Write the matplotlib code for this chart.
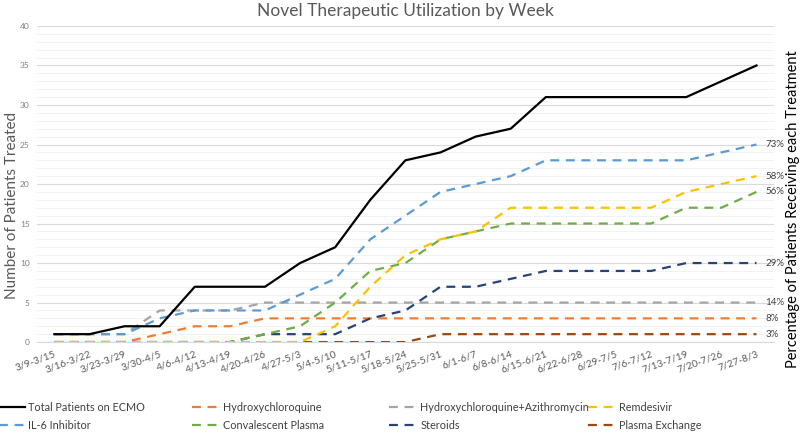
import matplotlib
matplotlib.use("Agg")
import matplotlib.pyplot as plt
from matplotlib.ticker import MultipleLocator

weeks = ["3/9-3/15", "3/16-3/22", "3/23-3/29", "3/30-4/5", "4/6-4/12", "4/13-4/19",
         "4/20-4/26", "4/27-5/3", "5/4-5/10", "5/11-5/17", "5/18-5/24", "5/25-5/31",
         "6/1-6/7", "6/8-6/14", "6/15-6/21", "6/22-6/28", "6/29-7/5", "7/6-7/12",
         "7/13-7/19", "7/20-7/26", "7/27-8/3"]

total_ecmo = [1, 1, 2, 2, 7, 7, 7, 10, 12, 18, 23, 24, 26, 27, 31, 31, 31, 31, 31, 33, 35]
hcq = [0, 0, 0, 1, 2, 2, 3, 3, 3, 3, 3, 3, 3, 3, 3, 3, 3, 3, 3, 3, 3]
hcq_azithro = [1, 1, 1, 4, 4, 4, 5, 5, 5, 5, 5, 5, 5, 5, 5, 5, 5, 5, 5, 5, 5]
remdesivir = [0, 0, 0, 0, 0, 0, 0, 0, 2, 7, 11, 13, 14, 17, 17, 17, 17, 17, 19, 20, 21]
il6 = [1, 1, 1, 3, 4, 4, 4, 6, 8, 13, 16, 19, 20, 21, 23, 23, 23, 23, 23, 24, 25]
conv_plasma = [0, 0, 0, 0, 0, 0, 1, 2, 5, 9, 10, 13, 14, 15, 15, 15, 15, 15, 17, 17, 19]
steroids = [0, 0, 0, 0, 0, 0, 1, 1, 1, 3, 4, 7, 7, 8, 9, 9, 9, 9, 10, 10, 10]
plasma_exchange = [0, 0, 0, 0, 0, 0, 0, 0, 0, 0, 0, 1, 1, 1, 1, 1, 1, 1, 1, 1, 1]

pct_labels = {"IL-6 Inhibitor": "73%", "Remdesivir": "58%", "Convalescent Plasma": "56%",
              "Steroids": "29%", "Hydroxychloroquine+Azithromycin": "14%",
              "Hydroxychloroquine": "8%", "Plasma Exchange": "3%"}

# legend order (row-wise, 4 columns)
series = [
    ("Total Patients on ECMO", total_ecmo, "#000000", "-"),
    ("Hydroxychloroquine", hcq, "#ED7D31", "--"),
    ("Hydroxychloroquine+Azithromycin", hcq_azithro, "#A5A5A5", "--"),
    ("Remdesivir", remdesivir, "#FFC000", "--"),
    ("IL-6 Inhibitor", il6, "#5B9BD5", "--"),
    ("Convalescent Plasma", conv_plasma, "#70AD47", "--"),
    ("Steroids", steroids, "#264478", "--"),
    ("Plasma Exchange", plasma_exchange, "#9E480E", "--"),
]
# drawing order: back to front
draw_order = ["Plasma Exchange", "Hydroxychloroquine", "Hydroxychloroquine+Azithromycin",
              "Steroids", "Convalescent Plasma", "Remdesivir", "IL-6 Inhibitor",
              "Total Patients on ECMO"]

plt.rcParams["font.family"] = ["Lato", "DejaVu Sans"]

fig = plt.figure(figsize=(8, 4.33), dpi=100)
ax = fig.add_axes([0.046, 0.21, 0.9215, 0.73])

x = list(range(len(weeks)))
handles = {}
for name, vals, color, ls in series:
    z = 3 + draw_order.index(name)
    if ls == "-":
        h, = ax.plot(x, vals, color=color, lw=1.6, zorder=z, label=name)
    else:
        h, = ax.plot(x, vals, color=color, lw=1.6, ls=(0, (4, 3)), zorder=z, label=name)
    handles[name] = h
    if name in pct_labels:
        ax.annotate(pct_labels[name], (x[-1], vals[-1]), xytext=(6.5, 0),
                    textcoords="offset points", ha="left", va="center",
                    fontsize=7, color="#404040", annotation_clip=False)

ax.set_xlim(-0.5, len(weeks) - 0.5)
ax.set_ylim(0, 40)
ax.yaxis.set_major_locator(MultipleLocator(5))
ax.yaxis.set_minor_locator(MultipleLocator(1))
ax.grid(axis="y", which="major", color="#d9d9d9", lw=0.8, zorder=0)
ax.grid(axis="y", which="minor", color="#f0f0f0", lw=0.6, zorder=0)
ax.set_axisbelow(True)
for s in ax.spines.values():
    s.set_visible(False)
ax.spines["bottom"].set_visible(True)
ax.spines["bottom"].set_color("#d9d9d9")
ax.tick_params(axis="both", which="both", length=0)
ax.tick_params(axis="y", labelsize=6, labelcolor="#7f7f7f", pad=5)

ax.set_xticks(x)
ax.set_xticklabels(weeks, rotation=20, ha="right", rotation_mode="anchor",
                   fontsize=7.3, color="#595959")
ax.tick_params(axis="x", pad=5)

ax.set_title("Novel Therapeutic Utilization by Week", fontsize=12.5, color="#595959", pad=7)
fig.text(0.015, 0.526, "Number of Patients Treated", rotation=90,
         ha="center", va="center", fontsize=11, color="#595959")
fig.text(0.991, 0.518, "Percentage of Patients Receiving each Treatment", rotation=90,
         ha="center", va="center", fontsize=10.5, color="#000000")

# legend: one single-column legend per column so columns sit at fixed spots
col_x = [-0.004, 0.24, 0.486, 0.735]
for c in range(4):
    names = [series[c][0], series[c + 4][0]]
    leg = fig.legend([handles[n] for n in names], names,
                     loc="upper left", bbox_to_anchor=(col_x[c], 0.071), ncol=1,
                     frameon=False, fontsize=7.8, handlelength=2.6, labelspacing=0.6,
                     handletextpad=0.3, borderaxespad=0, borderpad=0)
    for t in leg.get_texts():
        t.set_color("#404040")

fig.savefig("out.png", dpi=100)
